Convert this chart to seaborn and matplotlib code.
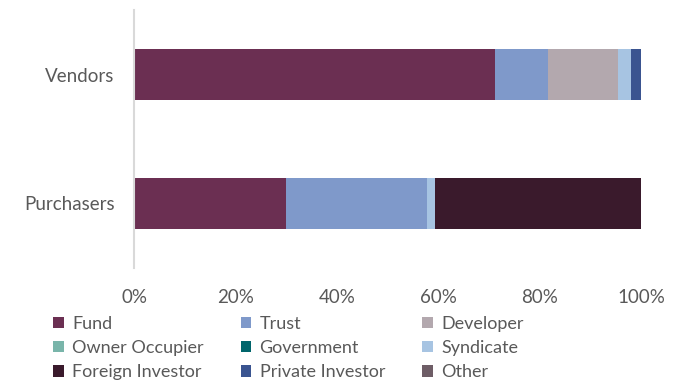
import matplotlib
matplotlib.use("Agg")
import matplotlib.pyplot as plt
from matplotlib.patches import Patch
import seaborn as sns
import pandas as pd
import numpy as np

categories = ["Vendors", "Purchasers"]
series = ["Fund", "Trust", "Developer", "Owner Occupier", "Government",
          "Syndicate", "Foreign Investor", "Private Investor", "Other"]
vendors = [71.2, 10.5, 13.7, 0.0, 0.0, 2.6, 0.0, 2.0, 0.0]
purchasers = [30.0, 27.7, 0.0, 0.0, 0.0, 1.7, 40.6, 0.0, 0.0]
colors = ["#6B2F52", "#7F99CA", "#B3A8AE", "#79B5AA", "#00656B",
          "#A7C4E2", "#3A1A2C", "#3A5490", "#6E5D66"]
xticks = [0, 20, 40, 60, 80, 100]
xtick_labels = ["0%", "20%", "40%", "60%", "80%", "100%"]

sns.set_theme(style="white")
plt.rcParams["font.family"] = ["Lato", "DejaVu Sans"]

df = pd.DataFrame({"Vendors": vendors, "Purchasers": purchasers}, index=series)
cum = df.cumsum()

fig = plt.figure(figsize=(6.81, 3.83), dpi=100)
ax = fig.add_axes([134/681, 1-268/383, (641-134)/681, (268-10)/383])

for i in range(len(series) - 1, -1, -1):
    s = series[i]
    d = pd.DataFrame({"cat": categories, "val": [cum.loc[s, c] for c in categories]})
    sns.barplot(data=d, x="val", y="cat", order=categories, color=colors[i],
                orient="h", width=0.395, ax=ax, saturation=1, linewidth=0)

ax.set_xlim(0, 100)
ax.set_ylim(1.5, -0.5)
ax.set_xticks(xticks)
ax.set_xticklabels(xtick_labels)
ax.set_xlabel("")
ax.set_ylabel("")
for sp in ["top", "right", "bottom"]:
    ax.spines[sp].set_visible(False)
ax.spines["left"].set_color("#D9D9D9")
ax.spines["left"].set_linewidth(1.5)
ax.tick_params(axis="both", length=0, labelsize=13.5, colors="#595959")
ax.tick_params(axis="x", pad=15)
ax.tick_params(axis="y", pad=14)

handles = [Patch(facecolor=c, edgecolor="none") for c in colors]
order = [0, 3, 6, 1, 4, 7, 2, 5, 8]
leg = fig.legend([handles[k] for k in order], [series[k] for k in order],
                 ncol=3, loc="upper left", bbox_to_anchor=(53/681, 1-316/383),
                 frameon=False, fontsize=13, handlelength=0.6, handleheight=0.6,
                 handletextpad=0.45, columnspacing=2.05, labelspacing=0.45,
                 borderaxespad=0, borderpad=0)
for t in leg.get_texts():
    t.set_color("#595959")

fig.savefig("out.png", dpi=100)
